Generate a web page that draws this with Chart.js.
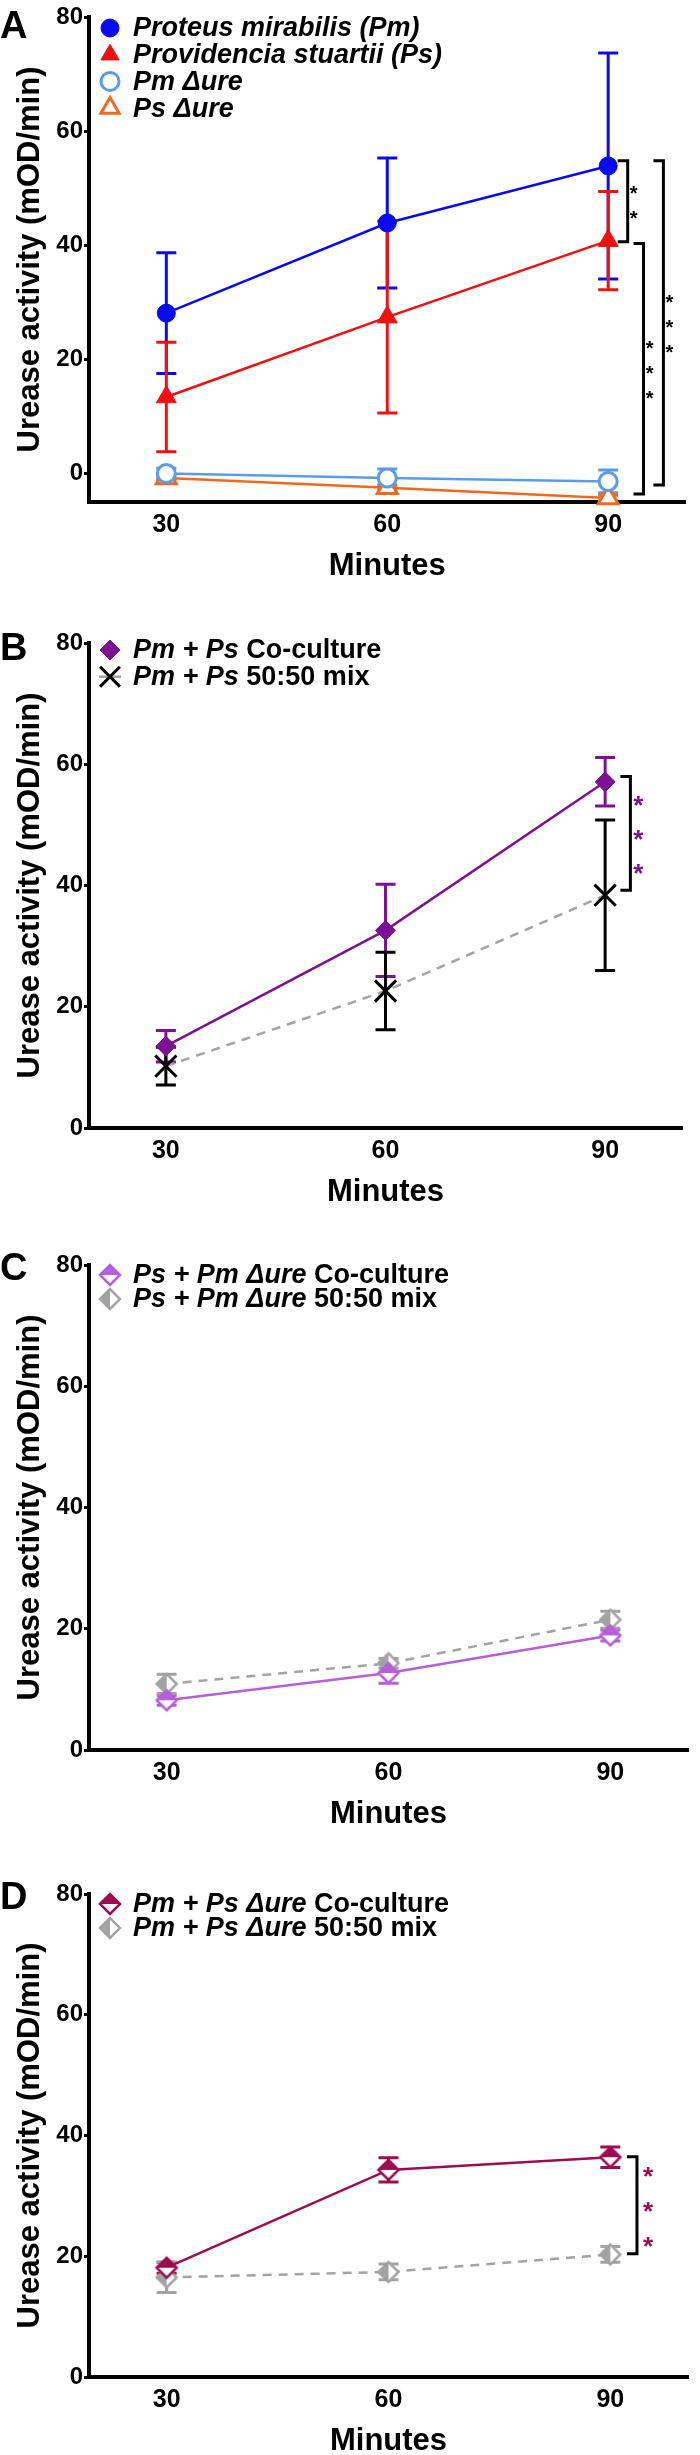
<!DOCTYPE html>
<html>
<head>
<meta charset="utf-8">
<script src="https://cdn.jsdelivr.net/npm/chart.js@4/dist/chart.umd.min.js"></script>
<style>
  body { margin: 0; background: #fff; width: 700px; height: 2455px; position: relative; overflow: hidden; font-family: 'Liberation Sans', Arial, sans-serif; }
  canvas { position: absolute; left: 0; }
  .letter { position: absolute; left: 0; font-weight: bold; font-size: 38px; line-height: 1; z-index: 2; }
</style>
</head>
<body>
<div class="letter" style="top:6px">A</div>
<div class="letter" style="top:628px">B</div>
<div class="letter" style="top:1248px">C</div>
<div class="letter" style="top:1877px">D</div>
<canvas id="panelA" width="700" height="610" style="top:0px"></canvas>
<canvas id="panelB" width="700" height="611" style="top:625px"></canvas>
<canvas id="panelC" width="700" height="610" style="top:1248px"></canvas>
<canvas id="panelD" width="700" height="608" style="top:1877px"></canvas>
<script>
// ---- data ----
const minutes = [30, 60, 90];
const xTickValues = [30, 60, 90];
const yTickValues = [0, 20, 40, 60, 80];
const yTitle = 'Urease activity (mOD/min)';
const xTitle = 'Minutes';

// A: single species
const pmMean = [28.1, 43.9, 53.9];
const pmErr = [10.6, 11.4, 19.8];
const psMean = [13.4, 27.4, 40.8];
const psErr = [9.6, 16.8, 8.6];
const pmUreMean = [0.0, -0.8, -1.4];
const pmUreErr = [0.9, 1.6, 2.0];
const psUreMean = [-0.8, -2.5, -4.3];
const psUreErr = [0.4, 0.5, 0.5];

// B: Pm + Ps
const pmPsCoMean = [13.5, 32.6, 57.1];
const pmPsCoErr = [2.6, 7.6, 4.0];
const pmPsMixMean = [10.2, 22.6, 38.4];
const pmPsMixErr = [3.1, 6.4, 12.4];

// C: Ps + Pm ure
const psPmUreCoMean = [8.2, 12.7, 18.9];
const psPmUreCoErr = [0.8, 1.7, 0.9];
const psPmUreMixMean = [10.9, 14.3, 21.5];
const psPmUreMixErr = [1.6, 0.8, 1.4];

// D: Pm + Ps ure
const pmPsUreCoMean = [18.1, 34.3, 36.4];
const pmPsUreCoErr = [0.9, 2.0, 1.7];
const pmPsUreMixMean = [16.5, 17.4, 20.3];
const pmPsUreMixErr = [2.5, 1.3, 1.3];

// ---- styling ----
const FONT = "'Liberation Sans', Arial, sans-serif";
Chart.defaults.font.family = FONT;
Chart.defaults.color = '#000';

const BLUE = '#0a0af0', RED = '#f01010', LIGHTBLUE = '#5b9bea', ORANGE = '#ef6a1e';
const PURPLE = '#7b1294', ORCHID = '#b65fd8', CRIMSON = '#9c0c4e', GRAY = '#a3a3a3';

// diamond with one half filled, used as point style in C and D
function halfDiamond(color, half) {
  const c = document.createElement('canvas');
  c.width = 26; c.height = 26;
  const g = c.getContext('2d');
  const r = 10, m = 13;
  const path = () => {
    g.beginPath();
    g.moveTo(m - r, m); g.lineTo(m, m - r); g.lineTo(m + r, m); g.lineTo(m, m + r);
    g.closePath();
  };
  path(); g.fillStyle = '#fff'; g.fill();
  g.save(); path(); g.clip();
  g.fillStyle = color;
  if (half === 'top') g.fillRect(0, 0, 26, m); else g.fillRect(0, 0, m, 26);
  g.restore();
  path(); g.strokeStyle = color; g.lineWidth = 2.5; g.stroke();
  return c;
}

function series(mean, err, opts) {
  return Object.assign({
    data: minutes.map((m, i) => ({ x: m, y: mean[i] })),
    errors: err,
    borderWidth: 2.5,
    tension: 0,
    clip: false
  }, opts);
}

// error bars drawn through the chart's own scales
const errorBars = {
  id: 'errorBars',
  beforeDatasetsDraw(chart) {
    const { ctx, scales: { x, y } } = chart;
    chart.data.datasets.forEach(ds => {
      if (!ds.errors) return;
      ctx.save();
      ctx.strokeStyle = ds.errorColor || ds.pointBorderColor;
      ctx.lineWidth = 3;
      ctx.setLineDash([]);
      ds.data.forEach((p, j) => {
        const px = x.getPixelForValue(p.x);
        const top = y.getPixelForValue(p.y + ds.errors[j]);
        const bot = y.getPixelForValue(p.y - ds.errors[j]);
        ctx.beginPath();
        ctx.moveTo(px, top); ctx.lineTo(px, bot);
        ctx.moveTo(px - 10, top); ctx.lineTo(px + 10, top);
        ctx.moveTo(px - 10, bot); ctx.lineTo(px + 10, bot);
        ctx.stroke();
      });
      ctx.restore();
    });
  }
};

function bracketPlugin(list, style) {
  return {
    id: 'sigBrackets',
    afterDatasetsDraw(chart) {
      const { ctx, scales: { x, y } } = chart;
      list.forEach(b => {
        const px = x.getPixelForValue(b.x);
        const y1 = y.getPixelForValue(b.from), y2 = y.getPixelForValue(b.to);
        ctx.save();
        ctx.strokeStyle = '#000';
        ctx.lineWidth = 3;
        ctx.beginPath();
        ctx.moveTo(px - 10, y1); ctx.lineTo(px, y1); ctx.lineTo(px, y2); ctx.lineTo(px - 10, y2);
        ctx.stroke();
        ctx.fillStyle = style.color;
        ctx.font = `bold ${style.size}px ${FONT}`;
        ctx.textAlign = 'center';
        ctx.textBaseline = 'alphabetic';
        const mid = (y1 + y2) / 2;
        for (let k = 0; k < b.stars; k++) {
          const cy = mid + (k - (b.stars - 1) / 2) * style.gap;
          ctx.fillText('*', px + style.dx, cy + 0.58 * style.size);
        }
        ctx.restore();
      });
    }
  };
}

// legend inside the plot, with mixed italic / upright text
function legendPlugin(rows, firstDy, step) {
  return {
    id: 'panelLegend',
    afterDraw(chart) {
      const { ctx, chartArea } = chart;
      rows.forEach((row, i) => {
        const ds = chart.data.datasets[row.ds];
        const cy = chartArea.top + firstDy + i * step;
        const mx = chartArea.left + 21;
        ctx.save();
        if (row.line) {
          ctx.strokeStyle = ds.borderColor;
          ctx.lineWidth = 2.5;
          ctx.beginPath(); ctx.moveTo(mx - 11, cy); ctx.lineTo(mx + 11, cy); ctx.stroke();
        }
        ctx.strokeStyle = ds.pointBorderColor;
        ctx.fillStyle = ds.pointBackgroundColor;
        ctx.lineWidth = ds.pointBorderWidth;
        Chart.helpers.drawPoint(ctx, {
          pointStyle: ds.pointStyle, radius: row.r || ds.pointRadius,
          borderWidth: ds.pointBorderWidth, rotation: 0
        }, mx, cy);
        ctx.fillStyle = '#000';
        ctx.textBaseline = 'middle';
        let tx = chartArea.left + 44;
        row.parts.forEach(([t, it]) => {
          ctx.font = (it ? 'italic ' : '') + 'bold 27px ' + FONT;
          ctx.fillText(t, tx, cy + 1);
          tx += ctx.measureText(t).width;
        });
        ctx.restore();
      });
    }
  };
}

function makePanel(id, cfg) {
  return new Chart(document.getElementById(id), {
    type: 'line',
    data: { datasets: cfg.datasets },
    options: {
      responsive: false,
      animation: false,
      layout: { padding: { top: 17, left: 0, right: 0, bottom: 0 } },
      plugins: { legend: { display: false }, tooltip: { enabled: false } },
      scales: {
        x: {
          type: 'linear', min: 19.5, max: 100.5,
          afterBuildTicks: s => { s.ticks = xTickValues.map(v => ({ value: v })); },
          afterFit: s => { s.height = 108; },
          grid: { display: false, drawTicks: false },
          border: { display: true, width: 4, color: '#000' },
          ticks: { font: { size: 25, weight: 'bold' }, color: '#000', padding: 8 },
          title: { display: true, text: xTitle, color: '#000', font: { size: 31, weight: 'bold' }, padding: { top: 0, bottom: 25 } }
        },
        y: {
          min: cfg.yMin, max: 80,
          afterBuildTicks: s => { s.ticks = yTickValues.map(v => ({ value: v })); },
          afterFit: s => { s.width = 89; },
          grid: { drawOnChartArea: false, drawTicks: true, tickLength: 5, tickWidth: 3, tickColor: '#000' },
          border: { display: true, width: 4, color: '#000' },
          ticks: { font: { size: 24, weight: 'bold' }, color: '#000', padding: 1 },
          title: { display: true, text: yTitle, color: '#000', font: { size: 31, weight: 'bold' }, padding: { top: 12, bottom: 0 } }
        }
      }
    },
    plugins: [errorBars, bracketPlugin(cfg.brackets, cfg.starStyle), legendPlugin(cfg.legend, cfg.legendTop, cfg.legendStep)]
  });
}

// ---- panel A ----
makePanel('panelA', {
  yMin: -5,
  datasets: [
    series(pmMean, pmErr, { borderColor: BLUE, pointStyle: 'circle', pointRadius: 9, pointBackgroundColor: BLUE, pointBorderColor: BLUE, pointBorderWidth: 1 }),
    series(psMean, psErr, { borderColor: RED, pointStyle: 'triangle', pointRadius: 11.5, pointBackgroundColor: RED, pointBorderColor: RED, pointBorderWidth: 1 }),
    series(pmUreMean, pmUreErr, { borderColor: LIGHTBLUE, pointStyle: 'circle', pointRadius: 9, pointBackgroundColor: '#fff', pointBorderColor: LIGHTBLUE, pointBorderWidth: 3 }),
    series(psUreMean, psUreErr, { borderColor: ORANGE, pointStyle: 'triangle', pointRadius: 11.5, pointBackgroundColor: '#fff', pointBorderColor: ORANGE, pointBorderWidth: 3 })
  ],
  brackets: [
    { x: 92.65, from: 54.8, to: 40.6, stars: 2 },
    { x: 94.8, from: 40.3, to: -3.6, stars: 3 },
    { x: 97.5, from: 54.8, to: -2.0, stars: 3 }
  ],
  starStyle: { color: '#000', size: 20, gap: 25, dx: 6 },
  legend: [
    { ds: 0, parts: [['Proteus mirabilis (Pm)', true]] },
    { ds: 1, parts: [['Providencia stuartii (Ps)', true]], r: 10.5 },
    { ds: 2, parts: [['Pm \u0394ure', true]] },
    { ds: 3, parts: [['Ps \u0394ure', true]], r: 10.5 }
  ],
  legendTop: 11, legendStep: 26.7
});

// ---- panel B ----
makePanel('panelB', {
  yMin: 0,
  datasets: [
    series(pmPsCoMean, pmPsCoErr, { borderColor: PURPLE, pointStyle: 'rectRot', pointRadius: 10, pointBackgroundColor: PURPLE, pointBorderColor: PURPLE, pointBorderWidth: 1 }),
    series(pmPsMixMean, pmPsMixErr, { borderColor: GRAY, borderDash: [9, 7], pointStyle: 'crossRot', pointRadius: 15, pointBackgroundColor: '#000', pointBorderColor: '#000', pointBorderWidth: 3 })
  ],
  brackets: [{ x: 93.45, from: 58.0, to: 39.2, stars: 3 }],
  starStyle: { color: PURPLE, size: 26, gap: 34, dx: 8 },
  legend: [
    { ds: 0, parts: [['Pm + Ps', true], [' Co-culture', false]] },
    { ds: 1, parts: [['Pm + Ps', true], [' 50:50 mix', false]], line: true, r: 14 }
  ],
  legendTop: 7, legendStep: 26.7
});

// ---- panel C ----
makePanel('panelC', {
  yMin: 0,
  datasets: [
    series(psPmUreCoMean, psPmUreCoErr, { borderColor: ORCHID, pointStyle: halfDiamond(ORCHID, 'top'), pointRadius: 10, pointBackgroundColor: ORCHID, pointBorderColor: ORCHID, pointBorderWidth: 2 }),
    series(psPmUreMixMean, psPmUreMixErr, { borderColor: GRAY, borderDash: [9, 7], pointStyle: halfDiamond(GRAY, 'left'), pointRadius: 10, pointBackgroundColor: GRAY, pointBorderColor: GRAY, pointBorderWidth: 2 })
  ],
  brackets: [],
  starStyle: { color: '#000', size: 26, gap: 34, dx: 8 },
  legend: [
    { ds: 0, parts: [['Ps + Pm \u0394ure', true], [' Co-culture', false]] },
    { ds: 1, parts: [['Ps + Pm \u0394ure', true], [' 50:50 mix', false]] }
  ],
  legendTop: 10, legendStep: 24
});

// ---- panel D ----
makePanel('panelD', {
  yMin: 0,
  datasets: [
    series(pmPsUreCoMean, pmPsUreCoErr, { borderColor: CRIMSON, pointStyle: halfDiamond(CRIMSON, 'top'), pointRadius: 10, pointBackgroundColor: CRIMSON, pointBorderColor: CRIMSON, pointBorderWidth: 2 }),
    series(pmPsUreMixMean, pmPsUreMixErr, { borderColor: GRAY, borderDash: [9, 7], pointStyle: halfDiamond(GRAY, 'left'), pointRadius: 10, pointBackgroundColor: GRAY, pointBorderColor: GRAY, pointBorderWidth: 2 })
  ],
  brackets: [{ x: 93.6, from: 36.5, to: 20.4, stars: 3 }],
  starStyle: { color: CRIMSON, size: 26, gap: 35, dx: 11 },
  legend: [
    { ds: 0, parts: [['Pm + Ps \u0394ure', true], [' Co-culture', false]] },
    { ds: 1, parts: [['Pm + Ps \u0394ure', true], [' 50:50 mix', false]] }
  ],
  legendTop: 10, legendStep: 24
});
</script>
</body>
</html>
